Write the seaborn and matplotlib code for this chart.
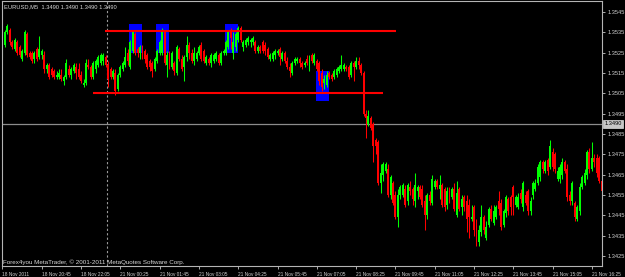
import numpy as np
import pandas as pd
import matplotlib
matplotlib.use("Agg")
import matplotlib.pyplot as plt
import matplotlib.transforms as mtransforms
from matplotlib import font_manager
import seaborn as sns

# ---------------- data (EURUSD M5 candles) ----------------
opens = [
    1.3524, 1.3529, 1.3535, 1.3536, 1.3530, 1.3527, 1.3530, 1.3528, 1.3522, 1.3525,
    1.3534, 1.3525, 1.3525, 1.3522, 1.3527, 1.3523, 1.3524, 1.3524, 1.3517, 1.3519,
    1.3517, 1.3516, 1.3513, 1.3513, 1.3514, 1.3511, 1.3513, 1.3517, 1.3514, 1.3516,
    1.3518, 1.3517, 1.3514, 1.3509, 1.3510, 1.3519, 1.3518, 1.3513, 1.3517, 1.3519,
    1.3520, 1.3521, 1.3523, 1.3519, 1.3517, 1.3513, 1.3515, 1.3507, 1.3514, 1.3517,
    1.3519, 1.3525, 1.3518, 1.3526, 1.3534, 1.3527, 1.3525, 1.3527, 1.3526, 1.3524,
    1.3521,
    1.3520, 1.3517, 1.3521, 1.3525, 1.3525, 1.3535, 1.3519, 1.3525, 1.3518, 1.3520,
    1.3515, 1.3527, 1.3522, 1.3518, 1.3523, 1.3529, 1.3525, 1.3521, 1.3522, 1.3525,
    1.3529, 1.3526, 1.3520, 1.3522, 1.3520, 1.3521, 1.3522, 1.3524, 1.3520, 1.3525,
    1.3525, 1.3528, 1.3536, 1.3525, 1.3528, 1.3531, 1.3537, 1.3528, 1.3529, 1.3530,
    1.3530, 1.3530, 1.3530, 1.3526, 1.3528, 1.3530, 1.3529, 1.3527, 1.3522, 1.3522,
    1.3524, 1.3525, 1.3527, 1.3522, 1.3525, 1.3521, 1.3518, 1.3515, 1.3520, 1.3521,
    1.3522,
    1.3520, 1.3519, 1.3522, 1.3517, 1.3524, 1.3520, 1.3521, 1.3520, 1.3515, 1.3510,
    1.3509, 1.3515, 1.3514, 1.3513, 1.3514, 1.3516, 1.3517, 1.3517, 1.3518, 1.3518,
    1.3514, 1.3520, 1.3518, 1.3521, 1.3519, 1.3515, 1.3495, 1.3490, 1.3493, 1.3490,
    1.3482, 1.3481, 1.3461, 1.3465, 1.3467, 1.3468, 1.3455, 1.3461, 1.3455, 1.3444,
    1.3455, 1.3455, 1.3458, 1.3452, 1.3459, 1.3458, 1.3452, 1.3457, 1.3459, 1.3458,
    1.3452, 1.3445, 1.3455, 1.3451, 1.3459, 1.3462, 1.3458, 1.3460, 1.3458, 1.3450,
    1.3458,
    1.3454, 1.3458, 1.3445, 1.3458, 1.3449, 1.3454, 1.3452, 1.3450, 1.3443, 1.3449,
    1.3440, 1.3432, 1.3437, 1.3444, 1.3434, 1.3440, 1.3448, 1.3441, 1.3444, 1.3452,
    1.3451, 1.3440, 1.3446, 1.3453, 1.3454, 1.3459, 1.3450, 1.3449, 1.3456, 1.3449,
    1.3455, 1.3457, 1.3447, 1.3455, 1.3458, 1.3461, 1.3464, 1.3471, 1.3467, 1.3472,
    1.3469, 1.3476, 1.3475, 1.3463, 1.3463, 1.3465, 1.3471, 1.3468, 1.3455, 1.3452,
    1.3451, 1.3443, 1.3447, 1.3459, 1.3461, 1.3465, 1.3476, 1.3468, 1.3473, 1.3473,
    1.3473, 1.3462,
]

highs = [
    1.3531, 1.3536, 1.3539, 1.3537, 1.3531, 1.3532, 1.3531, 1.3529, 1.3527, 1.3536,
    1.3535, 1.3526, 1.3526, 1.3526, 1.3528, 1.3533, 1.3527, 1.3526, 1.3520, 1.3520,
    1.3518, 1.3517, 1.3516, 1.3517, 1.3517, 1.3514, 1.3522, 1.3519, 1.3518, 1.3520,
    1.3520, 1.3520, 1.3516, 1.3512, 1.3522, 1.3522, 1.3519, 1.3521, 1.3522, 1.3524,
    1.3525, 1.3525, 1.3524, 1.3521, 1.3518, 1.3517, 1.3517, 1.3515, 1.3519, 1.3521,
    1.3528, 1.3527, 1.3531, 1.3536, 1.3535, 1.3528, 1.3529, 1.3529, 1.3527, 1.3525,
    1.3522,
    1.3521, 1.3523, 1.3527, 1.3531, 1.3537, 1.3536, 1.3526, 1.3526, 1.3526, 1.3521,
    1.3529, 1.3528, 1.3524, 1.3524, 1.3533, 1.3530, 1.3527, 1.3528, 1.3526, 1.3529,
    1.3530, 1.3527, 1.3524, 1.3523, 1.3525, 1.3525, 1.3526, 1.3525, 1.3526, 1.3527,
    1.3531, 1.3536, 1.3537, 1.3535, 1.3535, 1.3538, 1.3538, 1.3531, 1.3532, 1.3533,
    1.3532, 1.3533, 1.3531, 1.3529, 1.3529, 1.3531, 1.3530, 1.3528, 1.3525, 1.3526,
    1.3527, 1.3527, 1.3528, 1.3526, 1.3526, 1.3523, 1.3520, 1.3521, 1.3523, 1.3523,
    1.3523,
    1.3521, 1.3521, 1.3524, 1.3524, 1.3525, 1.3525, 1.3522, 1.3521, 1.3517, 1.3514,
    1.3516, 1.3516, 1.3515, 1.3517, 1.3518, 1.3519, 1.3524, 1.3520, 1.3519, 1.3519,
    1.3521, 1.3521, 1.3523, 1.3523, 1.3520, 1.3516, 1.3497, 1.3497, 1.3494, 1.3491,
    1.3483, 1.3482, 1.3470, 1.3471, 1.3471, 1.3470, 1.3465, 1.3462, 1.3457, 1.3458,
    1.3460, 1.3461, 1.3460, 1.3461, 1.3462, 1.3459, 1.3466, 1.3460, 1.3460, 1.3460,
    1.3455, 1.3456, 1.3457, 1.3465, 1.3463, 1.3463, 1.3465, 1.3461, 1.3459, 1.3459,
    1.3459,
    1.3459, 1.3461, 1.3462, 1.3459, 1.3455, 1.3455, 1.3455, 1.3453, 1.3450, 1.3450,
    1.3443, 1.3440, 1.3450, 1.3445, 1.3442, 1.3449, 1.3450, 1.3450, 1.3450, 1.3457,
    1.3453, 1.3448, 1.3455, 1.3454, 1.3455, 1.3460, 1.3455, 1.3456, 1.3458, 1.3462,
    1.3457, 1.3458, 1.3454, 1.3462, 1.3463, 1.3470, 1.3472, 1.3472, 1.3472, 1.3473,
    1.3482, 1.3478, 1.3476, 1.3469, 1.3470, 1.3473, 1.3472, 1.3470, 1.3457, 1.3462,
    1.3452, 1.3450, 1.3461, 1.3465, 1.3468, 1.3477, 1.3478, 1.3481, 1.3475, 1.3475,
    1.3474, 1.3463,
]

lows = [
    1.3523, 1.3528, 1.3534, 1.3529, 1.3527, 1.3526, 1.3524, 1.3523, 1.3521, 1.3524,
    1.3523, 1.3522, 1.3520, 1.3520, 1.3521, 1.3522, 1.3522, 1.3515, 1.3515, 1.3512,
    1.3513, 1.3512, 1.3512, 1.3512, 1.3511, 1.3509, 1.3512, 1.3513, 1.3512, 1.3515,
    1.3512, 1.3512, 1.3510, 1.3508, 1.3509, 1.3517, 1.3512, 1.3512, 1.3515, 1.3518,
    1.3519, 1.3519, 1.3518, 1.3508, 1.3512, 1.3512, 1.3504, 1.3506, 1.3513, 1.3516,
    1.3518, 1.3519, 1.3517, 1.3525, 1.3524, 1.3523, 1.3522, 1.3522, 1.3520, 1.3517,
    1.3516,
    1.3513, 1.3516, 1.3520, 1.3524, 1.3524, 1.3519, 1.3513, 1.3517, 1.3517, 1.3514,
    1.3514, 1.3521, 1.3516, 1.3511, 1.3521, 1.3522, 1.3520, 1.3519, 1.3521, 1.3524,
    1.3521, 1.3520, 1.3519, 1.3519, 1.3518, 1.3520, 1.3521, 1.3519, 1.3519, 1.3524,
    1.3524, 1.3527, 1.3527, 1.3522, 1.3526, 1.3530, 1.3530, 1.3526, 1.3528, 1.3529,
    1.3528, 1.3529, 1.3525, 1.3525, 1.3525, 1.3525, 1.3524, 1.3522, 1.3521, 1.3521,
    1.3522, 1.3524, 1.3519, 1.3521, 1.3520, 1.3517, 1.3513, 1.3514, 1.3519, 1.3520,
    1.3518,
    1.3517, 1.3518, 1.3519, 1.3516, 1.3520, 1.3519, 1.3516, 1.3509, 1.3506, 1.3507,
    1.3508, 1.3512, 1.3511, 1.3512, 1.3513, 1.3515, 1.3516, 1.3516, 1.3516, 1.3512,
    1.3513, 1.3511, 1.3517, 1.3517, 1.3514, 1.3494, 1.3483, 1.3489, 1.3487, 1.3471,
    1.3475, 1.3460, 1.3456, 1.3462, 1.3466, 1.3454, 1.3453, 1.3450, 1.3443, 1.3439,
    1.3453, 1.3454, 1.3449, 1.3450, 1.3455, 1.3450, 1.3449, 1.3453, 1.3453, 1.3449,
    1.3438, 1.3443, 1.3450, 1.3450, 1.3458, 1.3458, 1.3453, 1.3449, 1.3447, 1.3448,
    1.3451,
    1.3453, 1.3447, 1.3444, 1.3447, 1.3445, 1.3447, 1.3437, 1.3434, 1.3442, 1.3435,
    1.3430, 1.3430, 1.3435, 1.3436, 1.3433, 1.3439, 1.3442, 1.3440, 1.3443, 1.3445,
    1.3438, 1.3439, 1.3444, 1.3445, 1.3445, 1.3445, 1.3449, 1.3448, 1.3451, 1.3447,
    1.3450, 1.3445, 1.3445, 1.3453, 1.3457, 1.3460, 1.3462, 1.3466, 1.3466, 1.3465,
    1.3468, 1.3467, 1.3466, 1.3462, 1.3461, 1.3463, 1.3466, 1.3452, 1.3450, 1.3450,
    1.3442, 1.3442, 1.3445, 1.3458, 1.3460, 1.3463, 1.3466, 1.3467, 1.3469, 1.3464,
    1.3461, 1.3456,
]

closes = [
    1.3530, 1.3535, 1.3538, 1.3530, 1.3528, 1.3531, 1.3525, 1.3524, 1.3526, 1.3535,
    1.3524, 1.3523, 1.3521, 1.3525, 1.3522, 1.3527, 1.3526, 1.3517, 1.3519, 1.3513,
    1.3514, 1.3513, 1.3514, 1.3515, 1.3512, 1.3513, 1.3520, 1.3514, 1.3517, 1.3519,
    1.3515, 1.3513, 1.3511, 1.3510, 1.3520, 1.3518, 1.3513, 1.3520, 1.3521, 1.3523,
    1.3524, 1.3524, 1.3519, 1.3512, 1.3513, 1.3516, 1.3506, 1.3514, 1.3518, 1.3520,
    1.3523, 1.3521, 1.3530, 1.3535, 1.3525, 1.3525, 1.3528, 1.3524, 1.3522, 1.3518,
    1.3518,
    1.3516, 1.3522, 1.3526, 1.3530, 1.3536, 1.3520, 1.3524, 1.3519, 1.3525, 1.3516,
    1.3528, 1.3522, 1.3517, 1.3523, 1.3529, 1.3525, 1.3521, 1.3525, 1.3525, 1.3528,
    1.3522, 1.3521, 1.3523, 1.3520, 1.3524, 1.3524, 1.3525, 1.3520, 1.3525, 1.3526,
    1.3530, 1.3535, 1.3532, 1.3530, 1.3534, 1.3537, 1.3531, 1.3530, 1.3531, 1.3532,
    1.3531, 1.3532, 1.3526, 1.3528, 1.3526, 1.3526, 1.3526, 1.3523, 1.3524, 1.3525,
    1.3526, 1.3526, 1.3523, 1.3525, 1.3521, 1.3518, 1.3516, 1.3520, 1.3522, 1.3522,
    1.3520,
    1.3518, 1.3520, 1.3520, 1.3523, 1.3521, 1.3524, 1.3517, 1.3511, 1.3508, 1.3512,
    1.3514, 1.3513, 1.3512, 1.3516, 1.3517, 1.3518, 1.3519, 1.3519, 1.3517, 1.3513,
    1.3520, 1.3518, 1.3521, 1.3519, 1.3515, 1.3495, 1.3493, 1.3494, 1.3488, 1.3479,
    1.3479, 1.3461, 1.3466, 1.3470, 1.3470, 1.3455, 1.3464, 1.3451, 1.3444, 1.3455,
    1.3459, 1.3460, 1.3450, 1.3460, 1.3457, 1.3453, 1.3460, 1.3459, 1.3454, 1.3450,
    1.3445, 1.3455, 1.3452, 1.3463, 1.3462, 1.3459, 1.3460, 1.3450, 1.3449, 1.3457,
    1.3453,
    1.3458, 1.3448, 1.3456, 1.3448, 1.3453, 1.3449, 1.3443, 1.3444, 1.3444, 1.3438,
    1.3434, 1.3438, 1.3444, 1.3438, 1.3439, 1.3448, 1.3443, 1.3447, 1.3449, 1.3448,
    1.3439, 1.3447, 1.3454, 1.3447, 1.3449, 1.3454, 1.3454, 1.3454, 1.3453, 1.3461,
    1.3451, 1.3447, 1.3452, 1.3461, 1.3461, 1.3469, 1.3471, 1.3468, 1.3471, 1.3467,
    1.3479, 1.3469, 1.3468, 1.3467, 1.3469, 1.3471, 1.3467, 1.3454, 1.3452, 1.3461,
    1.3444, 1.3449, 1.3459, 1.3464, 1.3466, 1.3476, 1.3468, 1.3473, 1.3471, 1.3466,
    1.3462, 1.3457,
]

time_labels = ["18 Nov 2011", "18 Nov 20:45", "18 Nov 22:05", "21 Nov 00:25",
               "21 Nov 01:45", "21 Nov 03:05", "21 Nov 04:25", "21 Nov 05:45",
               "21 Nov 07:05", "21 Nov 08:25", "21 Nov 09:45", "21 Nov 11:05",
               "21 Nov 12:25", "21 Nov 13:45", "21 Nov 15:05", "21 Nov 16:25"]
bars_per_label = 16
price_ticks = [1.3545, 1.3535, 1.3525, 1.3515, 1.3505, 1.3495, 1.3485,
               1.3475, 1.3465, 1.3455, 1.3445, 1.3435, 1.3425]
bid_price = 1.3490
title_text = "EURUSD,M5  1.3490 1.3490 1.3490 1.3490"
copyright_text = "Forex4you MetaTrader, \u00a9 2001-2011 MetaQuotes Software Corp."

# drawn objects: horizontal levels (price, first bar, last bar)
level_lines = [(1.35357, 41.7, 160.2), (1.35054, 36.9, 154.9)]
# blue rectangles: (bar from, bar to, price low, price high)
rectangles = [(51.5, 56.8, 1.35248, 1.35391),
              (62.5, 67.8, 1.35248, 1.35391),
              (90.6, 95.9, 1.35248, 1.35391),
              (127.7, 133.0, 1.35012, 1.35160)]
day_separator_bar = 42.55

# ---------------- build frame ----------------
n = min(len(opens), len(highs), len(lows), len(closes))
df = pd.DataFrame({"open": opens[:n], "high": highs[:n],
                   "low": lows[:n], "close": closes[:n]})
df["bar"] = np.arange(n)
df["up"] = df["close"] >= df["open"]

sns.set_theme(style="dark", rc={"axes.facecolor": "black",
                                "figure.facecolor": "black",
                                "savefig.facecolor": "black"})

installed = {f.name for f in font_manager.fontManager.ttflist}
if "Liberation Sans Narrow" in installed:
    FAMILY = ["Liberation Sans Narrow", "DejaVu Sans"]
    SCALE = 1.0
elif "Liberation Sans" in installed:
    FAMILY = ["Liberation Sans", "DejaVu Sans"]
    SCALE = 0.84
else:
    FAMILY = ["DejaVu Sans"]
    SCALE = 0.74
plt.rcParams["font.family"] = FAMILY

FS_Y = 4.8 * SCALE
FS_X = 4.1 * SCALE
FS_TITLE = 4.9 * SCALE
FS_COPY = 5.4 * SCALE

W, H = 625, 277
fig = plt.figure(figsize=(W / 100, H / 100), dpi=100)
ax = fig.add_axes([2 / W, 11 / H, 600 / W, 265 / H])
ax.set_facecolor("black")

GREEN = "#00ff00"
RED = "#ff0000"
colors = np.where(df["up"], GREEN, RED)

# rectangles (behind candles)
for b0, b1, p0, p1 in rectangles:
    ax.add_patch(plt.Rectangle((b0, p0), b1 - b0, p1 - p0, facecolor="#0000ff",
                               edgecolor="none", zorder=1))

# bid line
ax.axhline(bid_price, color="#8c8c8c", lw=0.9, zorder=1.5)
# day separator
ax.axvline(day_separator_bar, color="#9a9a9a", lw=0.8, ls=(0, (2, 2)), zorder=1.5)

# wicks and bodies
ax.vlines(df["bar"], df["low"], df["high"], colors=colors, lw=0.75, zorder=2)
body_bottom = np.minimum(df["open"], df["close"])
body_h = np.maximum(np.abs(df["close"] - df["open"]), 0.00004)
ax.bar(df["bar"], body_h, bottom=body_bottom, width=0.8, color=colors,
       linewidth=0, zorder=2.5)

# red horizontal level lines
for p, b0, b1 in level_lines:
    ax.hlines(p, b0, b1, colors="#ff0000", lw=1.5, zorder=3)

ax.set_xlim(-0.2, 244.1)
ax.set_ylim(1.342006, 1.355041)

# axes frame
for s in ax.spines.values():
    s.set_color("#b4b4b4")
    s.set_linewidth(0.8)
    s.set_visible(True)

# ticks
ax.yaxis.tick_right()
ax.set_yticks(price_ticks)
ax.set_yticklabels([f"{p:.4f}" for p in price_ticks], fontsize=FS_Y)
xt = [i * bars_per_label for i in range(len(time_labels))]
ax.set_xticks(xt)
ax.set_xticklabels(time_labels, ha="left", fontsize=FS_X)
ax.tick_params(axis="both", colors="#c8c8c8", labelcolor="#d2d2d2",
               length=2.5, width=0.6, direction="out",
               pad=1.5, bottom=True, right=True, left=False, top=False)
ax.grid(False)

# bid price box on the axis
trans = mtransforms.blended_transform_factory(ax.transAxes, ax.transData)
ax.text(1.0 + 2.5 / 600, bid_price, f"{bid_price:.4f}", transform=trans,
        ha="left", va="center", fontsize=FS_Y, color="black",
        bbox=dict(boxstyle="square,pad=0.25", fc="#c8c8c8", ec="#e0e0e0", lw=0.5),
        zorder=5, clip_on=False)

# texts
fig.text(4 / W, 1 - 6.5 / H, title_text, ha="left", va="center",
         fontsize=FS_TITLE, color="#d8d8d8")
fig.text(3 / W, 1 - 262 / H, copyright_text, ha="left", va="center",
         fontsize=FS_COPY, color="#d8d8d8")

fig.savefig("out.png", dpi=100, facecolor="black")
